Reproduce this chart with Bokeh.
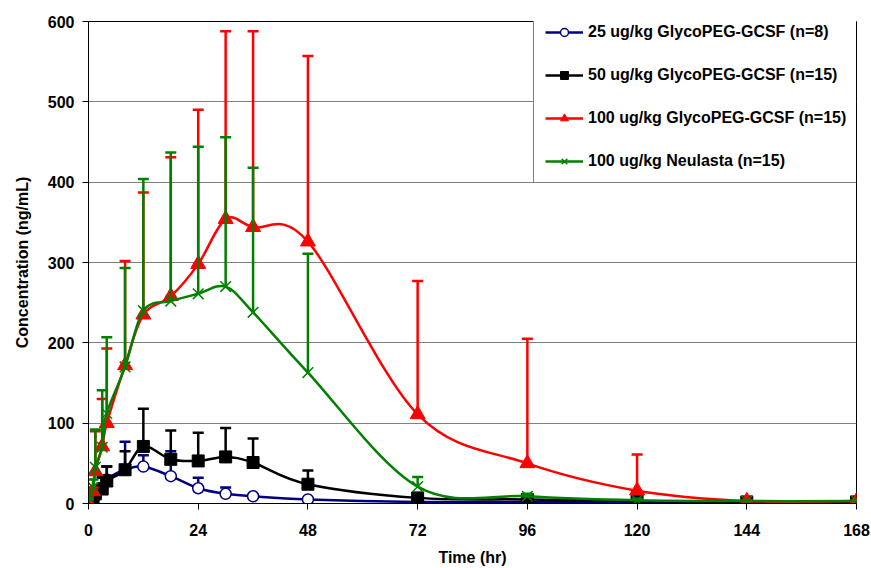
import numpy as np
from bokeh.plotting import figure
from bokeh.models import Range1d, Legend, LegendItem, FixedTicker
from bokeh.embed import file_html
from bokeh.resources import INLINE

# ---- data ----
times = [0, 1, 1.5, 3, 4, 8, 12, 18, 24, 30, 36, 48, 72, 96, 120, 144, 168]

labels = ["25 ug/kg GlycoPEG-GCSF (n=8)",
          "50 ug/kg GlycoPEG-GCSF (n=15)",
          "100 ug/kg GlycoPEG-GCSF (n=15)",
          "100 ug/kg Neulasta (n=15)"]

mean_25 = [0, 4, 10, 20, 30, 42, 46, 34, 19, 12, 9, 5, 2, 2, 1, 1, 1]
upper_25 = [0, 6, 15, 33, 46, 77, 60, 65, 32, 20, 11, 7, 3, 3, 2, 2, 2]

mean_50 = [2, 6, 12, 18, 28, 42, 71, 55, 53, 58, 51, 24, 7, 5, 3, 2, 2]
upper_50 = [3, 9, 20, 32, 46, 65, 118, 91, 88, 94, 81, 41, 10, 7, 4, 3, 3]

mean_100 = [0, 15, 40, 71, 100, 172, 235, 258, 298, 354, 344, 326, 111, 50, 16, 3, 3]
upper_100 = [0, 20, 90, 130, 193, 302, 387, 431, 490, 588, 588, 557, 277, 205, 61, 4, 4]

mean_neu = [2, 20, 45, 70, 112, 170, 240, 252, 261, 270, 238, 163, 21, 9, 4, 3, 3]
upper_neu = [5, 30, 92, 141, 207, 293, 404, 437, 444, 456, 418, 311, 33, 12, 6, 4, 4]

x_ticks = [0, 24, 48, 72, 96, 120, 144, 168]
y_ticks = [0, 100, 200, 300, 400, 500, 600]

FONT = "Liberation Sans"

p = figure(width=871, height=568, output_backend="svg", toolbar_location=None,
           x_range=Range1d(0, 168), y_range=Range1d(0, 600),
           min_border_left=88, min_border_right=15, min_border_top=21,
           min_border_bottom=64)
p.background_fill_color = "white"
p.border_fill_color = "white"
p.outline_line_color = "black"
p.outline_line_width = 1

p.xgrid.visible = False
p.ygrid.grid_line_color = "#808080"
p.ygrid.grid_line_width = 1
p.ygrid.ticker = FixedTicker(ticks=y_ticks)

p.xaxis.ticker = FixedTicker(ticks=x_ticks)
p.yaxis.ticker = FixedTicker(ticks=y_ticks)
for ax in (p.xaxis[0], p.yaxis[0]):
    ax.axis_line_color = "black"
    ax.major_tick_line_color = "black"
    ax.major_tick_out = 6
    ax.major_tick_in = 0
    ax.minor_tick_line_color = None
    ax.major_label_text_font = FONT
    ax.major_label_text_font_style = "bold"
    ax.major_label_text_font_size = "16px"
    ax.major_label_text_color = "black"
    ax.axis_label_text_font = FONT
    ax.axis_label_text_font_style = "bold"
    ax.axis_label_text_font_size = "16px"
    ax.axis_label_text_color = "black"
p.xaxis.axis_label = "Time (hr)"
p.yaxis.axis_label = "Concentration (ng/mL)"
p.xaxis.major_label_standoff = 14
p.yaxis.major_label_standoff = 8
p.xaxis.axis_label_standoff = 10
p.yaxis.axis_label_standoff = 14


def smooth(t, y):
    t = np.asarray(t, float)
    y = np.asarray(y, float)
    tp = np.concatenate([[t[0]], t, [t[-1]]])
    yp = np.concatenate([[y[0]], y, [y[-1]]])
    n = len(t)
    cx0 = t[:-1] + (tp[2:n + 1] - tp[0:n - 1]) / 6
    cy0 = y[:-1] + (yp[2:n + 1] - yp[0:n - 1]) / 6
    cx1 = t[1:] - (tp[3:n + 2] - tp[1:n]) / 6
    cy1 = y[1:] - (yp[3:n + 2] - yp[1:n]) / 6
    return dict(x0=t[:-1], y0=y[:-1], x1=t[1:], y1=y[1:],
                cx0=cx0, cy0=cy0, cx1=cx1, cy1=cy1)


series = [
    (mean_25, upper_25, "#000080", dict(marker="circle", size=11, fill_color="white", line_width=1.5)),
    (mean_50, upper_50, "black", dict(marker="square", size=12, fill_color="black", line_width=1)),
    (mean_100, upper_100, "#FF0000", dict(marker="triangle", size=15, fill_color="#FF0000", line_width=1)),
    (mean_neu, upper_neu, "#008000", dict(marker="x", size=15, fill_color=None, line_width=1.5)),
]

items = []
for (m, u, col, mk), lab in zip(series, labels):
    p.segment(x0=times, y0=m, x1=times, y1=u, line_color=col, line_width=2.5)
    p.scatter(x=times, y=u, marker="dash", size=11, line_color=col, line_width=2.5)
    b = p.bezier(line_color=col, line_width=2.5, **smooth(times, m))
    kw = dict(mk)
    s = p.scatter(x=times, y=m, line_color=col, **kw)
    items.append(LegendItem(label=lab, renderers=[b, s]))

legend = Legend(items=items, location=(445, 320))
legend.label_text_font = FONT
legend.label_text_font_style = "bold"
legend.label_text_font_size = "16px"
legend.label_text_color = "black"
legend.border_line_color = "black"
legend.border_line_width = 1
legend.background_fill_color = "white"
legend.background_fill_alpha = 1
legend.padding = 11
legend.margin = 0
legend.spacing = 23
legend.glyph_width = 38
legend.glyph_height = 20
legend.label_height = 20
legend.label_standoff = 5
p.add_layout(legend, "center")

open("out.html", "w").write(file_html(p, INLINE))
